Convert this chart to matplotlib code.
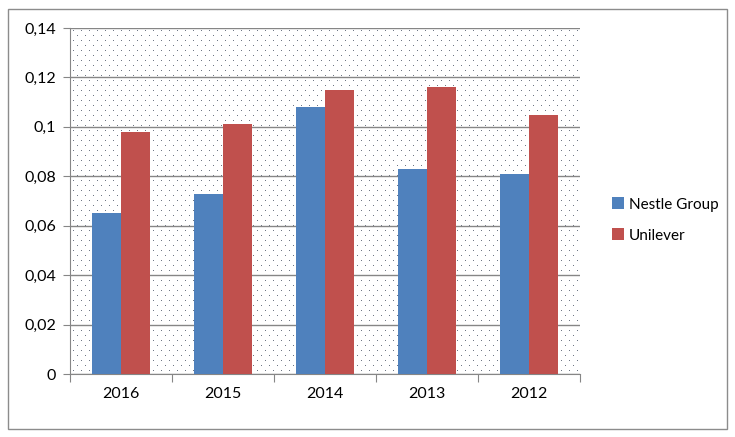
import numpy as np
import matplotlib.pyplot as plt
from matplotlib.patches import Rectangle
from matplotlib.ticker import FuncFormatter

# data
years = ['2016', '2015', '2014', '2013', '2012']
nestle = [0.065, 0.073, 0.108, 0.083, 0.081]
unilever = [0.098, 0.101, 0.115, 0.116, 0.105]

plt.rcParams['font.family'] = ['Lato', 'DejaVu Sans']

fig = plt.figure(figsize=(7.35, 4.37), dpi=100)
ax = fig.add_axes([70 / 735, 1 - 374 / 437, 510 / 735, 346 / 437])

# outer chart border
fig.patches.append(Rectangle((8 / 735, 8 / 437), 719 / 735, 420 / 437, transform=fig.transFigure,
                             fill=False, edgecolor='#8c8c8c', linewidth=1))

# dotted background pattern (in pixel steps)
W, H = 510, 346
px, py = [], []
for j, yy in enumerate(np.arange(3, H, 5)):
    off = 0 if j % 2 == 0 else 4
    for xx in np.arange(3 + off, W, 8):
        px.append(xx / W)
        py.append(yy / H)
ax.plot(px, py, ',', color='#6f7785', transform=ax.transAxes, zorder=0)

x = np.arange(len(years))
w = 0.285
ax.bar(x - w / 2, nestle, w, color='#4f81bd', label='Nestle Group', zorder=3)
ax.bar(x + w / 2, unilever, w, color='#c0504d', label='Unilever', zorder=3)

ax.set_xlim(-0.5, len(years) - 0.5)
ax.set_ylim(0, 0.14)
ax.set_yticks(np.arange(0, 0.141, 0.02))
ax.yaxis.set_major_formatter(FuncFormatter(lambda v, p: '0' if v == 0 else f'{v:.2f}'.rstrip('0').replace('.', ',')))
ax.grid(axis='y', color='#868686', linewidth=1, zorder=1)

ax.set_xticks(np.arange(-0.5, len(years), 1))
ax.set_xticklabels([])
ax.set_xticks(x, minor=True)
ax.set_xticklabels(years, minor=True)
ax.tick_params(axis='x', which='minor', length=0, pad=9, labelsize=11.5)
ax.tick_params(axis='x', which='major', length=6, color='#868686')
ax.tick_params(axis='y', length=5, color='#868686', labelsize=11.5, pad=5)

for side in ['top', 'right']:
    ax.spines[side].set_visible(False)
for side in ['left', 'bottom']:
    ax.spines[side].set_color('#868686')

fig.legend(loc='center left', bbox_to_anchor=(598 / 735, 1 - 220 / 437), frameon=False,
           fontsize=11, handlelength=0.8, handleheight=0.8, handletextpad=0.3, labelspacing=1.1)

fig.savefig('out.png', dpi=100)
